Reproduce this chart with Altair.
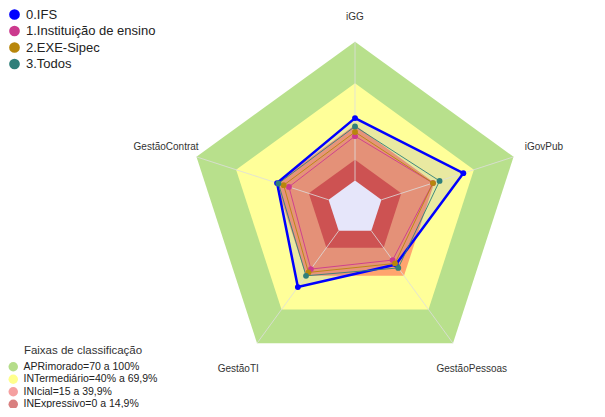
import altair as alt
import pandas as pd

# ---------------- data ----------------
axes_labels = ["iGG", "iGovPub", "GestãoPessoas", "GestãoTI", "GestãoContrat"]
label_radius = [118, 123, 123, 123, 123]

series_names = ["0.IFS", "1.Instituição de ensino", "2.EXE-Sipec", "3.Todos"]
ifs_values = [45, 62, 30, 50, 39]
inst_values = [32, 39, 26, 34, 30]
exe_values = [35, 39, 29, 37, 34]
todos_values = [39, 44, 33, 40, 38]

band_names = ["APRimorado=70 a 100%", "INTermediário=40% a 69,9%",
              "INIcial=15 a 39,9%", "INExpressivo=0 a 14,9%"]
band_upper = [100, 70, 40, 15]

# ---------------- styles ----------------
series_colors = ["#0000FF", "#CC3A8E", "#B8860B", "#2F7F7A"]
series_widths = [2.5, 1, 1, 1]
series_fill_opacity = [0.085, 0.015, 0.015, 0.015]
band_chart_colors = ["#B8E08C", "#FFFF99", "#FFA46E", "#CD5252"]
band_legend_colors = ["#B5DD8A", "#FFFF8C", "#F5A0A0", "#D98080"]
center_color = "#E6E6FA"
OFFSET = 20          # radial scale starts at -20 (hole in the middle)
FONT = "Arial"

W, H = 589, 400
X_DOM = [-249.8, 174.2]
Y_DOM = [-143.7, 144.25]

# ---------------- tables ----------------
series_values = [ifs_values, inst_values, exe_values, todos_values]
s_rows = []
for s, vals in zip(series_names, series_values):
    for k in range(6):
        s_rows.append({"series": s, "k": k, "idx": k % 5, "value": vals[k % 5]})
series_df = pd.DataFrame(s_rows)

b_rows = []
for name, up in zip(band_names + ["centro"], band_upper + [0]):
    for k in range(6):
        b_rows.append({"band": name, "k": k, "idx": k % 5, "value": up})
band_df = pd.DataFrame(b_rows)

spoke_df = pd.DataFrame({"idx": list(range(5)), "v0": [0] * 5, "v1": [100] * 5})
label_df = pd.DataFrame({"idx": list(range(5)), "label": axes_labels, "value": label_radius})


def X():
    return alt.X("x:Q", scale=alt.Scale(domain=X_DOM, nice=False, zero=False), axis=None)


def Y():
    return alt.Y("y:Q", scale=alt.Scale(domain=Y_DOM, nice=False, zero=False), axis=None)


def polar(ch):
    return ch.transform_calculate(
        ang="datum.idx * 2 * PI / 5", r=f"datum.value + {OFFSET}"
    ).transform_calculate(
        x="datum.r * sin(datum.ang)", y="datum.r * cos(datum.ang)"
    )


def band_poly(name, color):
    d = band_df[band_df["band"] == name]
    return polar(alt.Chart(d).mark_line(fill=color, fillOpacity=1, strokeOpacity=0, strokeWidth=0)).encode(
        x=X(), y=Y(), order=alt.Order("k:Q"))


layers = []
# outer bands
for name, col in zip(band_names[:3], band_chart_colors[:3]):
    layers.append(band_poly(name, col))

# series fills
for s, col, a in zip(series_names, series_colors, series_fill_opacity):
    d = series_df[series_df["series"] == s]
    layers.append(polar(alt.Chart(d).mark_line(fill=col, fillOpacity=a, strokeOpacity=0, strokeWidth=0)).encode(
        x=X(), y=Y(), order=alt.Order("k:Q")))

# inner band + hole
layers.append(band_poly(band_names[3], band_chart_colors[3]))
layers.append(band_poly("centro", center_color))

# spokes
spokes = alt.Chart(spoke_df).transform_calculate(
    ang="datum.idx * 2 * PI / 5"
).transform_calculate(
    x=f"(datum.v0 + {OFFSET}) * sin(datum.ang)", y=f"(datum.v0 + {OFFSET}) * cos(datum.ang)",
    x2=f"(datum.v1 + {OFFSET}) * sin(datum.ang)", y2=f"(datum.v1 + {OFFSET}) * cos(datum.ang)"
).mark_rule(color="#DDDDDD", strokeWidth=1, opacity=0.8).encode(
    x=X(), y=Y(), x2="x2:Q", y2="y2:Q")
layers.append(spokes)

# series lines
for s, col, w in zip(series_names, series_colors, series_widths):
    d = series_df[series_df["series"] == s]
    layers.append(polar(alt.Chart(d).mark_line(color=col, strokeWidth=w, opacity=0.9 if w < 2 else 1)).encode(
        x=X(), y=Y(), order=alt.Order("k:Q")))

# points + series legend
points = polar(alt.Chart(series_df[series_df["k"] < 5]).mark_circle(size=34, opacity=1)).encode(
    x=X(), y=Y(),
    color=alt.Color("series:N",
                    scale=alt.Scale(domain=series_names, range=series_colors),
                    legend=alt.Legend(title=None, orient="none", legendX=0, legendY=0,
                                      symbolType="circle", symbolSize=115, symbolStrokeWidth=0,
                                      labelFontSize=13, labelFont=FONT, labelColor="#222222",
                                      rowPadding=2.5, labelOffset=5, padding=0, labelLimit=300)),
    order=alt.Order("k:Q"))
layers.append(points)

# axis labels
labels = polar(alt.Chart(label_df).mark_text(fontSize=10, font=FONT, color="#333333",
                                              align="center", baseline="middle")).encode(
    x=X(), y=Y(), text="label:N")
layers.append(labels)

# band legend (invisible marks, legend only)
legend_df = pd.DataFrame({"band": band_names, "idx": [0] * 4, "value": [0] * 4})
band_leg = polar(alt.Chart(legend_df).mark_circle(size=0, opacity=1)).encode(
    x=X(), y=Y(),
    fill=alt.Fill("band:N",
                  scale=alt.Scale(domain=band_names, range=band_legend_colors),
                  legend=alt.Legend(title="Faixas de classificação", orient="none",
                                    legendX=0, legendY=337,
                                    titleFontSize=11.5, titleFontWeight="normal", titleFont=FONT,
                                    titleColor="#333333", titleAnchor="middle", titlePadding=5,
                                    labelFontSize=10.5, labelFont=FONT, labelColor="#222222",
                                    symbolType="circle", symbolSize=90, symbolStrokeWidth=0,
                                    rowPadding=1.5, labelOffset=5, padding=0, labelLimit=300)))
layers.append(band_leg)

chart = alt.layer(*layers).properties(
    width=W, height=H, padding=0, autosize=alt.AutoSizeParams(type="none"), background="white"
).configure_view(stroke=None)

chart.save("out.html", embed_options={"renderer": "svg", "actions": False})
